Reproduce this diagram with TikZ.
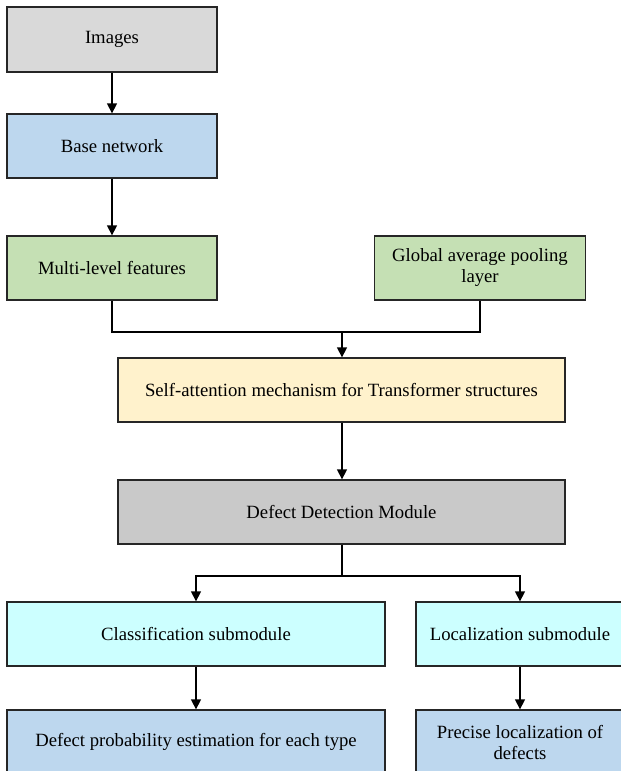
\documentclass[tikz,border=0pt]{standalone}
\usepackage{fontspec}
\setmainfont{Liberation Serif}
\usetikzlibrary{arrows.meta}
\definecolor{cImg}{HTML}{D9D9D9}
\definecolor{cBlue}{HTML}{BDD7EE}
\definecolor{cGreen}{HTML}{C5E0B4}
\definecolor{cYellow}{HTML}{FFF2CC}
\definecolor{cDet}{HTML}{C9C9C9}
\definecolor{cCyan}{HTML}{CCFFFF}
\definecolor{cEdge}{HTML}{262626}
\tikzset{
  box/.style={draw=cEdge, line width=1.3pt, rectangle, inner sep=0pt, align=center,
    minimum height=64pt, font=\fontsize{18.7}{21}\selectfont},
  conn/.style={line width=1.3pt, draw=black, -{Triangle[length=10pt,width=10pt]}},
  plain/.style={line width=1.3pt, draw=black},
}
\begin{document}
\begin{tikzpicture}[x=1pt,y=-1pt]
\useasboundingbox (0,0) rectangle (621,771);
\node[box, fill=cImg, minimum width=210pt, minimum height=65pt] (img) at (112,39.5) {Images};
\node[box, fill=cBlue, minimum width=210pt] (base) at (112,146) {Base network};
\node[box, fill=cGreen, minimum width=210pt] (multi) at (112,268) {Multi-level features};
\node[box, fill=cGreen, minimum width=211pt] (gap) at (480,268) {Global average pooling\\layer};
\node[box, fill=cYellow, minimum width=447pt] (self) at (341.5,390) {Self-attention mechanism for Transformer structures};
\node[box, fill=cDet, minimum width=447pt] (det) at (341.5,512) {Defect Detection Module};
\node[box, fill=cCyan, minimum width=378pt] (cls) at (196,634) {Classification submodule};
\node[box, fill=cCyan, minimum width=208pt] (loc) at (520,634) {Localization submodule};
\node[box, fill=cBlue, minimum width=378pt] (prob) at (196,742) {Defect probability estimation for each type};
\node[box, fill=cBlue, minimum width=208pt] (prec) at (520,742) {Precise localization of\\defects};
\coordinate (merge) at (342,332);
\coordinate (split) at (342,576);
\draw[conn] (img) -- (base);
\draw[conn] (base) -- (multi);
\draw[plain] (multi.south) |- (merge);
\draw[plain] (gap.south) |- (merge);
\draw[conn] (merge) -- (merge |- self.north);
\draw[conn] (merge |- self.south) -- (merge |- det.north);
\draw[plain] (merge |- det.south) -- (split);
\draw[conn] (split) -| (cls.north);
\draw[conn] (split) -| (loc.north);
\draw[conn] (cls) -- (prob);
\draw[conn] (loc) -- (prec);
\end{tikzpicture}
\end{document}
